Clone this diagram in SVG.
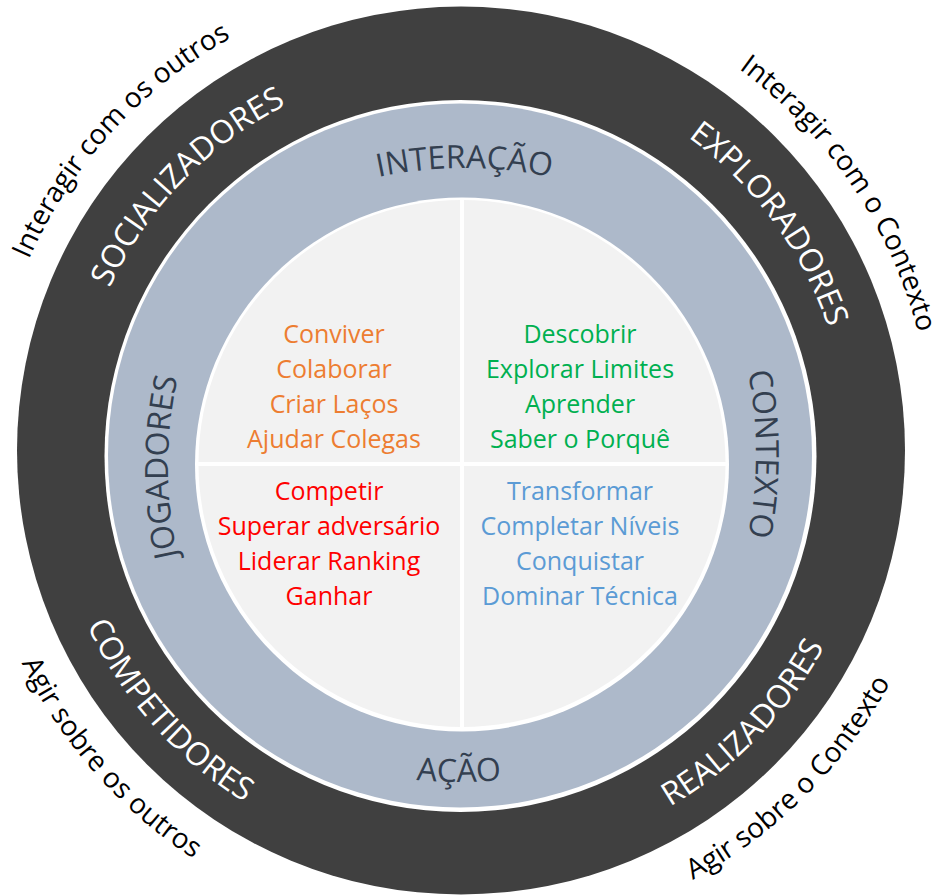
<svg xmlns="http://www.w3.org/2000/svg" width="932" height="896" viewBox="0 0 932 896">
  <style>
    text { font-family: "Open Sans", "Noto Sans", "DejaVu Sans", sans-serif; }
    .outer { font-size: 28px; fill: #000000; }
    .ring { font-size: 32px; fill: #FFFFFF; }
    .axis { font-size: 32px; fill: #333F50; }
    .item { font-size: 25px; text-anchor: middle; }
    .orange { fill: #ED7D31; }
    .green { fill: #00B050; }
    .red { fill: #FF0000; }
    .blue { fill: #5B9BD5; }
  </style>
  <defs>
    <path id="p-int-outros" d="M -7.2 514.5 A 472 472 0 0 1 481.6 -21.1"/>
    <path id="p-int-contexto" d="M 508.7 -19.1 A 472 472 0 0 1 915.2 579.0"/>
    <path id="p-agir-outros" d="M -21.4 376.6 A 488 488 0 0 0 472.1 938.4"/>
    <path id="p-agir-contexto" d="M 418.5 936.6 A 488 488 0 0 0 947.1 408.0"/>
    <path id="p-social" d="M 76.1 491.0 A 387 387 0 0 1 488.0 64.4"/>
    <path id="p-explor" d="M 486.0 64.3 A 387 387 0 0 1 837.0 542.2"/>
    <path id="p-compet" d="M 52.3 391.0 A 413 413 0 0 0 473.3 863.3"/>
    <path id="p-realiz" d="M 432.2 862.5 A 413 413 0 0 0 871.7 407.3"/>
    <path id="p-interacao" d="M 254.5 224.3 A 420 420 0 0 1 674.5 224.3"/>
    <path id="p-acao" d="M 249 725.7 A 420 420 0 0 0 669 725.7"/>
    <path id="p-jogadores" d="M 224.3 677 A 420 420 0 0 1 224.3 257"/>
    <path id="p-contexto" d="M 699.7 244 A 420 420 0 0 1 699.7 664"/>
  </defs>

  <g id="rings">
    <circle id="outer-ring" cx="461" cy="450.5" r="444" fill="#404040"/>
    <circle cx="460.5" cy="456" r="356" fill="#FFFFFF"/>
    <circle id="middle-ring" cx="460" cy="455.5" r="352" fill="#ADB9CA"/>
    <circle cx="462" cy="464.5" r="267" fill="#FFFFFF"/>
    <circle id="inner-disc" cx="462" cy="463.5" r="263.5" fill="#F2F2F2"/>
  </g>

  <g id="dividers" stroke="#FFFFFF" stroke-width="4">
    <line x1="462" y1="198" x2="462" y2="730"/>
    <line x1="197" y1="464" x2="727" y2="464"/>
  </g>

  <g id="outer-labels">
    <text class="outer"><textPath href="#p-int-outros" startOffset="50%" text-anchor="middle">Interagir com os outros</textPath></text>
    <text class="outer"><textPath href="#p-int-contexto" startOffset="50%" text-anchor="middle">Interagir com o Contexto</textPath></text>
    <text class="outer"><textPath href="#p-agir-outros" startOffset="50%" text-anchor="middle">Agir sobre os outros</textPath></text>
    <text class="outer"><textPath href="#p-agir-contexto" startOffset="50%" text-anchor="middle">Agir sobre o Contexto</textPath></text>
  </g>

  <g id="socializadores"><text class="ring"><textPath href="#p-social" startOffset="50%" text-anchor="middle">SOCIALIZADORES</textPath></text></g>
  <g id="exploradores"><text class="ring"><textPath href="#p-explor" startOffset="50%" text-anchor="middle">EXPLORADORES</textPath></text></g>
  <g id="competidores"><text class="ring"><textPath href="#p-compet" startOffset="50%" text-anchor="middle">COMPETIDORES</textPath></text></g>
  <g id="realizadores"><text class="ring"><textPath href="#p-realiz" startOffset="50%" text-anchor="middle">REALIZADORES</textPath></text></g>

  <g id="interacao"><text class="axis"><textPath href="#p-interacao" startOffset="50%" text-anchor="middle">INTERAÇÃO</textPath></text></g>
  <g id="acao"><text class="axis"><textPath href="#p-acao" startOffset="50%" text-anchor="middle">AÇÃO</textPath></text></g>
  <g id="jogadores"><text class="axis"><textPath href="#p-jogadores" startOffset="50%" text-anchor="middle">JOGADORES</textPath></text></g>
  <g id="contexto"><text class="axis"><textPath href="#p-contexto" startOffset="50%" text-anchor="middle">CONTEXTO</textPath></text></g>

  <g id="quad-socializar">
    <text class="item orange" x="334" y="343">Conviver</text>
    <text class="item orange" x="334" y="378">Colaborar</text>
    <text class="item orange" x="334" y="413">Criar Laços</text>
    <text class="item orange" x="334" y="448">Ajudar Colegas</text>
  </g>
  <g id="quad-explorar">
    <text class="item green" x="580" y="343">Descobrir</text>
    <text class="item green" x="580" y="378">Explorar Limites</text>
    <text class="item green" x="580" y="413">Aprender</text>
    <text class="item green" x="580" y="448">Saber o Porquê</text>
  </g>
  <g id="quad-competir">
    <text class="item red" x="329" y="500">Competir</text>
    <text class="item red" x="329" y="535">Superar adversário</text>
    <text class="item red" x="329" y="570">Liderar Ranking</text>
    <text class="item red" x="329" y="605">Ganhar</text>
  </g>
  <g id="quad-realizar">
    <text class="item blue" x="580" y="500">Transformar</text>
    <text class="item blue" x="580" y="535">Completar Níveis</text>
    <text class="item blue" x="580" y="570">Conquistar</text>
    <text class="item blue" x="580" y="605">Dominar Técnica</text>
  </g>
</svg>
